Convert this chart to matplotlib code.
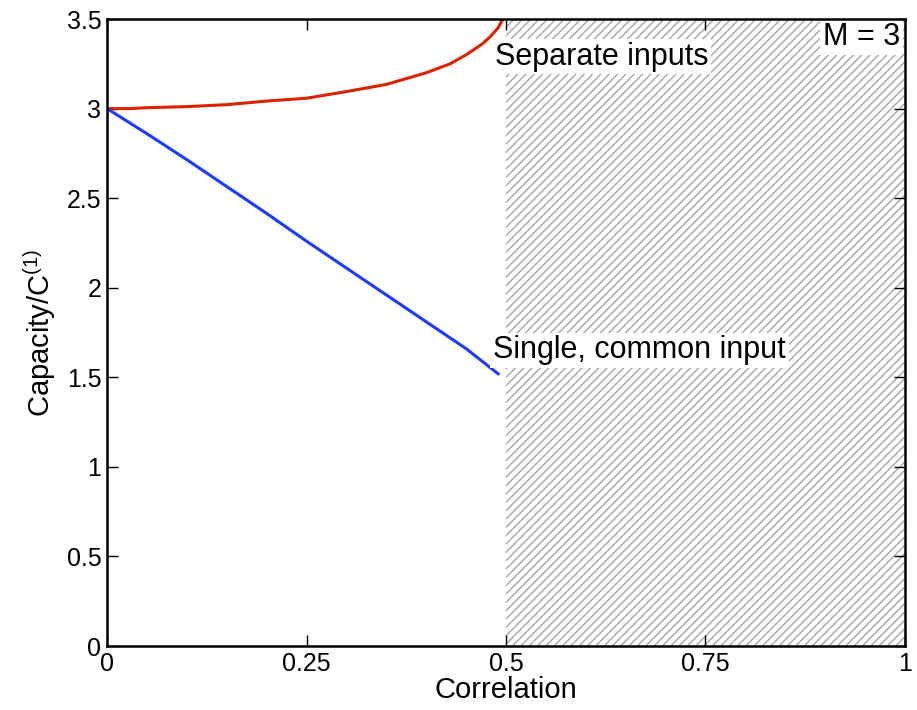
import matplotlib
matplotlib.use('Agg')
import matplotlib.pyplot as plt

plt.rcParams['font.family'] = ['Liberation Sans', 'DejaVu Sans']
plt.rcParams['mathtext.fontset'] = 'custom'
plt.rcParams['mathtext.rm'] = 'Liberation Sans'
plt.rcParams['hatch.color'] = '#a6a6a6'
plt.rcParams['hatch.linewidth'] = 1.0

# Datos
correlacion = [0.0, 0.03, 0.05, 0.1, 0.15, 0.2, 0.25, 0.3, 0.35, 0.4, 0.43, 0.45, 0.47, 0.48, 0.49, 0.496]
separadas = [3.0, 3.0, 3.005, 3.011, 3.022, 3.042, 3.058, 3.095, 3.135, 3.20, 3.25, 3.30, 3.36, 3.40, 3.45, 3.5]

correlacion_comun = [0.0, 0.05, 0.1, 0.15, 0.2, 0.25, 0.3, 0.35, 0.4, 0.45, 0.49]
comun = [3.0, 2.86, 2.715, 2.565, 2.415, 2.26, 2.11, 1.96, 1.81, 1.66, 1.52]

zona_rayada = [0.5, 1.0]
xticks = [0, 0.25, 0.5, 0.75, 1]
xlabels = ['0', '0.25', '0.5', '0.75', '1']
yticks = [0, 0.5, 1, 1.5, 2, 2.5, 3, 3.5]
ylabels = ['0', '0.5', '1', '1.5', '2', '2.5', '3', '3.5']

fig = plt.figure(figsize=(9.17, 7.10), dpi=100)
ax = fig.add_axes([0.1167, 0.0901, 0.8702, 0.8831])

ax.axvspan(zona_rayada[0], zona_rayada[1], facecolor='white', edgecolor='#a6a6a6',
           hatch='////', linewidth=0, zorder=0)

ax.plot(correlacion, separadas, color='#dd2200', linewidth=2.2, zorder=3)
ax.plot(correlacion_comun, comun, color='#1a3cff', linewidth=2.2, zorder=3)

caja = dict(facecolor='white', edgecolor='none', pad=2)
ax.text(0.486, 3.29, 'Separate inputs', fontsize=22, va='center', ha='left', bbox=caja, zorder=4)
ax.text(0.484, 1.65, 'Single, common input', fontsize=22, va='center', ha='left', bbox=caja, zorder=4)
ax.text(0.994, 3.40, 'M = 3', fontsize=22, va='center', ha='right', bbox=caja, zorder=4)

ax.set_xlim(0, 1)
ax.set_ylim(0, 3.5)
ax.set_xticks(xticks)
ax.set_xticklabels(xlabels)
ax.set_yticks(yticks)
ax.set_yticklabels(ylabels)
ax.tick_params(direction='in', length=8, width=1, labelsize=18, top=True, right=True, pad=4)
for s in ax.spines.values():
    s.set_linewidth(1.8)
    s.set_zorder(5)

ax.set_xlabel('Correlation', fontsize=21, labelpad=0)
ax.set_ylabel('Capacity/C$^{\\mathregular{(1)}}$', fontsize=21, labelpad=6)

fig.savefig('out.png', dpi=100)
